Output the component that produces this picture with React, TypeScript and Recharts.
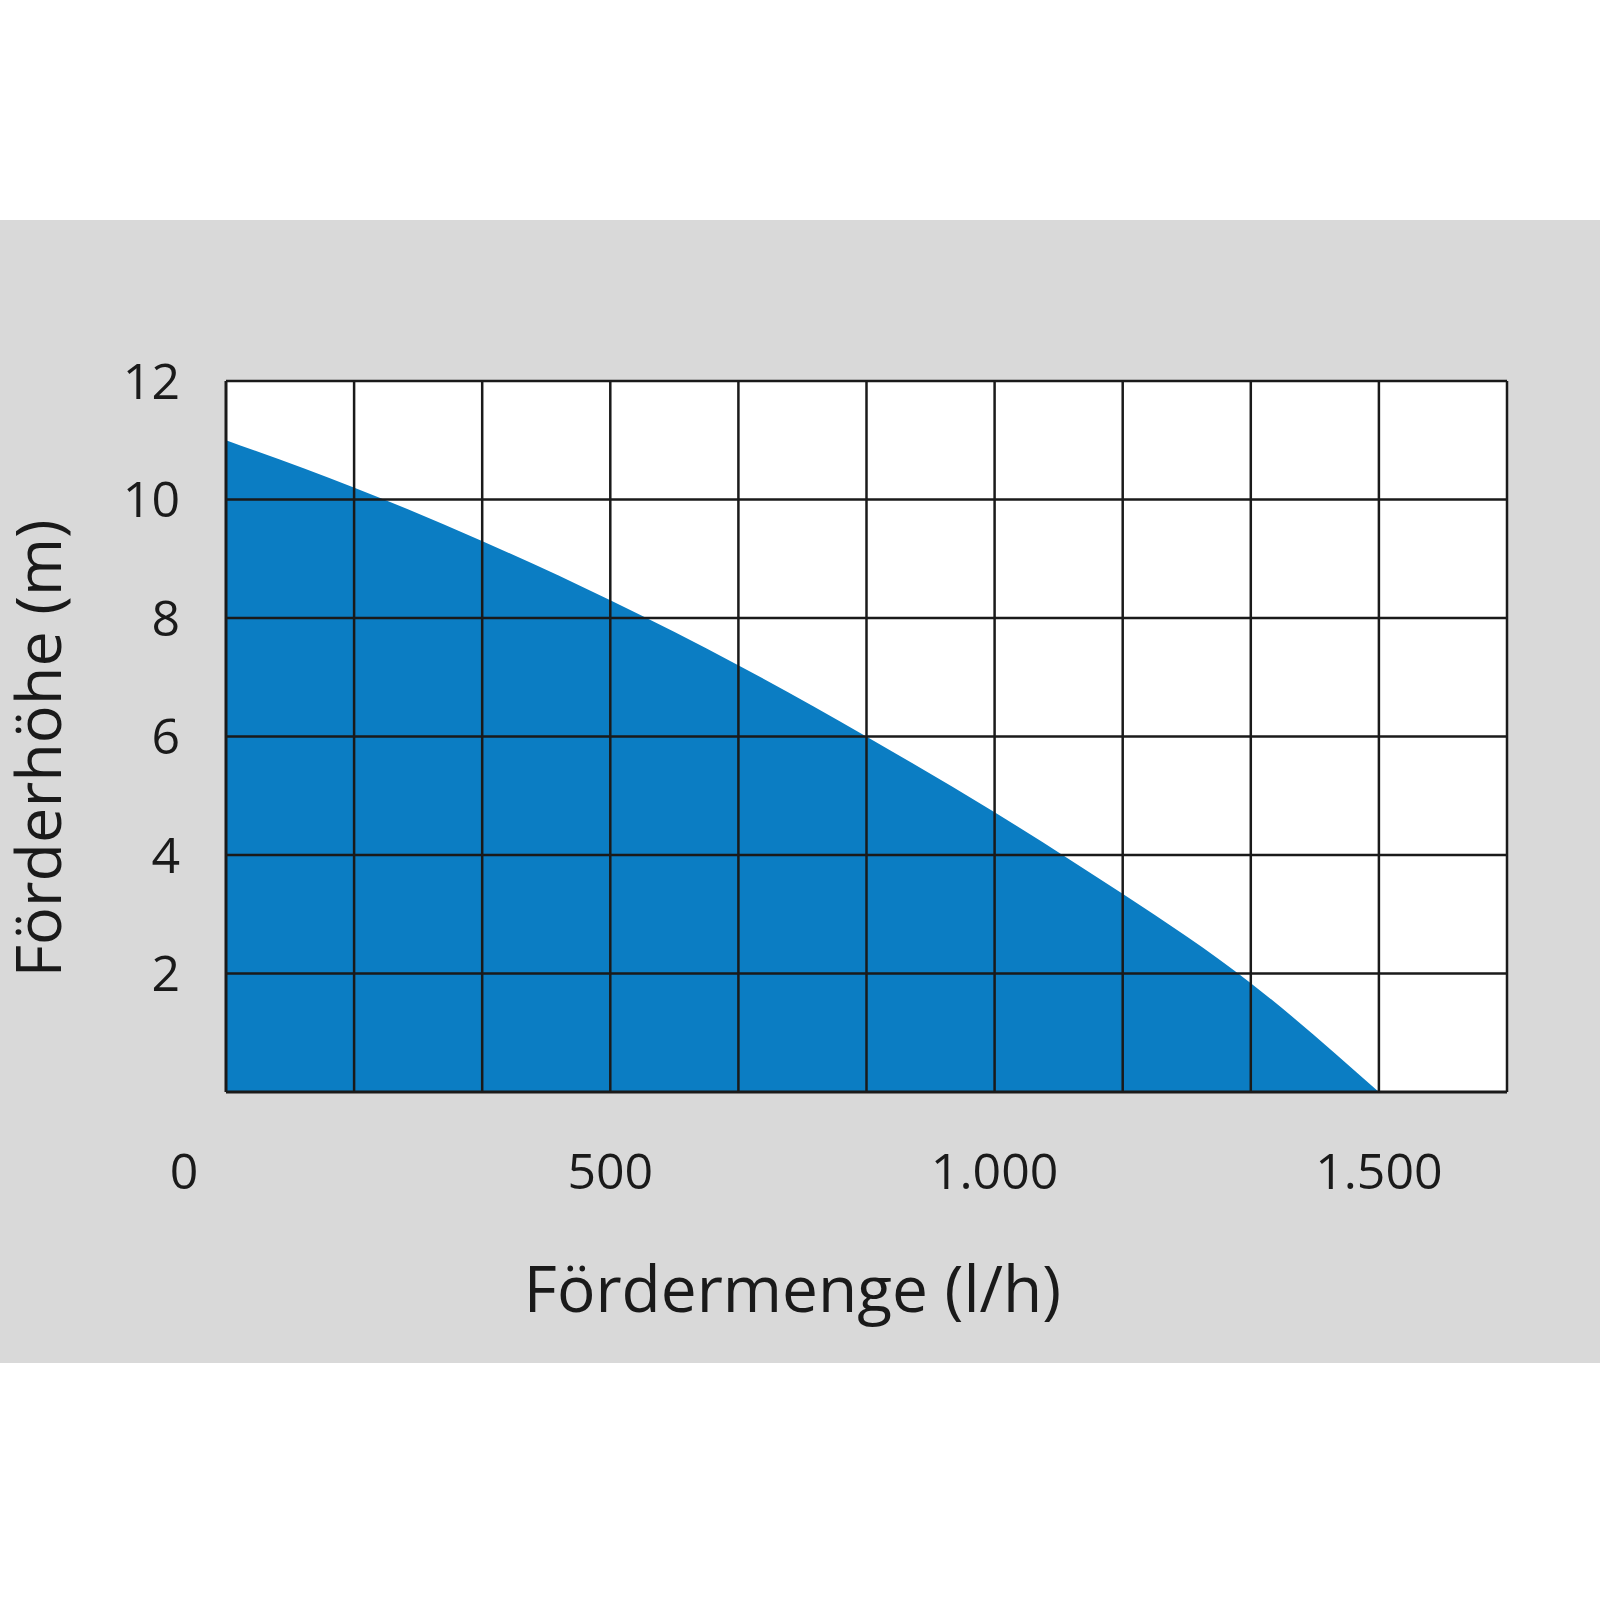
import React from 'react';
import {
  AreaChart,
  Area,
  XAxis,
  YAxis,
  CartesianGrid,
  ReferenceLine
} from 'recharts';

// flow rate (l/h) and delivery head (m)
const FLOW = [0, 167, 333, 500, 667, 833, 1000, 1167, 1333, 1500];
const HEAD = [11.0, 10.2, 9.3, 8.3, 7.2, 6.0, 4.72, 3.34, 1.84, 0];

const X_TICKS = [0, 500, 1000, 1500];
const Y_TICKS = [2, 4, 6, 8, 10, 12];
// grid columns are 1/3 of 500 l/h wide
const X_GRID = [166.67, 333.33, 500, 666.67, 833.33, 1000, 1166.67, 1333.33, 1500, 1666.67];
const Y_GRID = [2, 4, 6, 8, 10, 12];

const X_TITLE = 'Fördermenge (l/h)';
const Y_TITLE = 'Förderhöhe (m)';

const BLUE = '#0b7dc3';
const GRAY = '#d9d9d9';
const INK = '#1a1a1a';
const FONT = '"Open Sans", sans-serif';

const data = FLOW.map((flow, i) => ({ flow, head: HEAD[i] }));

const formatThousands = (v: number) =>
  String(v).replace(/\B(?=(\d{3})+(?!\d))/g, '.');

const XTick = ({ x, y, payload }: any) => (
  <text
    x={payload.value === 0 ? x - 42 : x}
    y={y}
    dy="0.71em"
    textAnchor="middle"
    fontSize={50}
    fontFamily={FONT}
    fill={INK}
  >
    {formatThousands(payload.value)}
  </text>
);

const XTitle = ({ viewBox }: any) => (
  <text
    x={viewBox.x + viewBox.width / 2 - 74}
    y={viewBox.y + 220}
    textAnchor="middle"
    fontSize={64}
    fontFamily={FONT}
    fill={INK}
  >
    {X_TITLE}
  </text>
);

const YTitle = ({ viewBox }: any) => {
  const cx = 61;
  const cy = viewBox.y + viewBox.height / 2 + 12;
  return (
    <text
      x={cx}
      y={cy}
      transform={`rotate(-90 ${cx} ${cy})`}
      textAnchor="middle"
      fontSize={63}
      fontFamily={FONT}
      fill={INK}
    >
      {Y_TITLE}
    </text>
  );
};

export default function App() {
  return (
    <div
      style={{
        position: 'absolute',
        left: 0,
        top: 0,
        width: 1600,
        height: 1600,
        background: '#fff'
      }}
    >
      <div
        style={{
          position: 'absolute',
          left: 0,
          top: 220,
          width: 1600,
          height: 1143,
          background: GRAY
        }}
      />
      <div style={{ position: 'absolute', left: 0, top: 0 }}>
        <AreaChart
          width={1600}
          height={1600}
          data={data}
          margin={{ top: 381, right: 93, left: 0, bottom: 448 }}
        >
          <CartesianGrid fill="#fff" horizontal={false} vertical={false} />
          <XAxis
            dataKey="flow"
            type="number"
            domain={[0, 1666.67]}
            ticks={X_TICKS}
            interval={0}
            height={60}
            tickSize={0}
            tickMargin={61}
            tickLine={false}
            axisLine={{ stroke: INK, strokeWidth: 3 }}
            tick={XTick}
            label={{ value: X_TITLE, content: XTitle }}
          />
          <YAxis
            type="number"
            domain={[0, 12]}
            ticks={Y_TICKS}
            interval={0}
            width={226}
            tickSize={0}
            tickMargin={46}
            tickLine={false}
            axisLine={{ stroke: INK, strokeWidth: 3 }}
            tick={{ fontSize: 50, fontFamily: FONT, fill: INK }}
            label={{ value: Y_TITLE, content: YTitle }}
          />
          <Area
            type="natural"
            dataKey="head"
            stroke="none"
            fill={BLUE}
            fillOpacity={1}
            baseValue={0}
            isAnimationActive={false}
          />
          {X_GRID.map((v) => (
            <ReferenceLine key={`x-${v}`} x={v} stroke={INK} strokeWidth={2.5} />
          ))}
          {Y_GRID.map((v) => (
            <ReferenceLine key={`y-${v}`} y={v} stroke={INK} strokeWidth={2.5} />
          ))}
        </AreaChart>
      </div>
    </div>
  );
}
